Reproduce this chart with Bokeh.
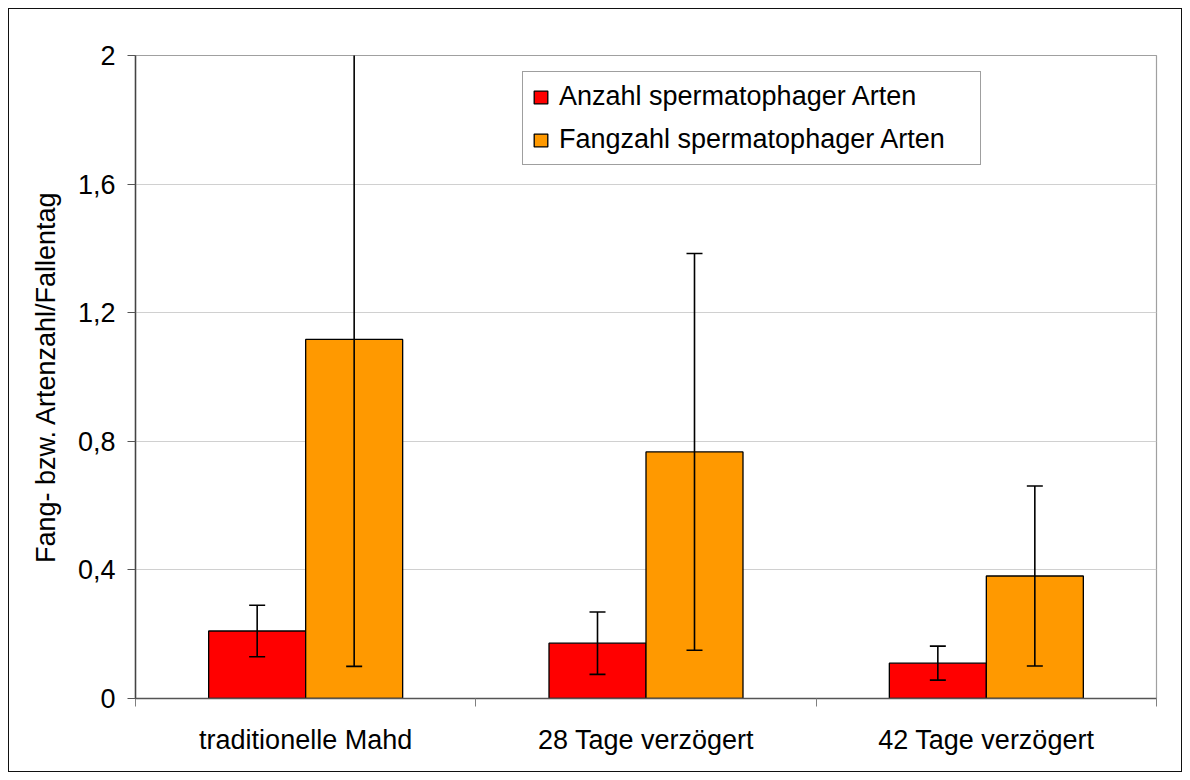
import numpy as np
from bokeh.plotting import figure
from bokeh.models import (ColumnDataSource, Range1d, FixedTicker, Whisker, TeeHead,
                          Legend, LegendItem)
from bokeh.embed import file_html
from bokeh.resources import INLINE

categories = ["traditionelle Mahd", "28 Tage verzögert", "42 Tage verzögert"]
series_names = ["Anzahl spermatophager Arten", "Fangzahl spermatophager Arten"]
anzahl = [0.21, 0.172, 0.110]
anzahl_err = [0.080, 0.097, 0.053]
fangzahl = [1.117, 0.767, 0.381]
fangzahl_err = [1.017, 0.617, 0.280]
y_ticks = [0, 0.4, 0.8, 1.2, 1.6, 2]
y_tick_labels = ["0", "0,4", "0,8", "1,2", "1,6", "2"]
y_title = "Fang- bzw. Artenzahl/Fallentag"

FONT = "Liberation Sans"
FS = "27px"
colors = ["#ff0000", "#ff9900"]

centers = np.arange(len(categories)) + 0.5
bar_w = 0.285
off = 0.1425

p = figure(width=1190, height=780, output_backend="svg", toolbar_location=None,
           x_range=Range1d(0, len(categories)), y_range=Range1d(0, 2),
           min_border_left=135, min_border_right=34, min_border_top=55, min_border_bottom=82)
p.border_fill_color = None
p.styles = {"outline": "1.5px solid #111111", "outline-offset": "-9.5px",
            "background-color": "white"}
p.outline_line_color = "#a0a0a0"
p.outline_line_width = 1.2

renderers = []
for vals, errs, dx, col in [(anzahl, anzahl_err, -off, colors[0]), (fangzahl, fangzahl_err, off, colors[1])]:
    x = centers + dx
    v = np.array(vals)
    e = np.array(errs)
    src = ColumnDataSource(dict(x=x, top=v, lower=v - e, upper=v + e))
    r = p.vbar(x="x", top="top", width=bar_w, bottom=0, source=src,
               fill_color=col, line_color="black", line_width=1.3)
    renderers.append(r)
    w = Whisker(base="x", lower="lower", upper="upper", source=src, dimension="height",
                line_color="black", line_width=1.6,
                upper_head=TeeHead(size=16, line_color="black", line_width=1.6),
                lower_head=TeeHead(size=16, line_color="black", line_width=1.6),
                level="annotation")
    p.add_layout(w)

# axes
xa = p.xaxis[0]
xa.ticker = FixedTicker(ticks=list(centers), minor_ticks=list(range(len(categories) + 1)))
xa.major_label_overrides = {float(c): lab for c, lab in zip(centers, categories)}
xa.major_tick_out = 0
xa.major_tick_in = 0
xa.minor_tick_out = 8
xa.minor_tick_in = 0
xa.minor_tick_line_color = "#808080"
xa.axis_line_color = "#555555"
xa.axis_line_width = 1.3
xa.major_label_text_font = FONT
xa.major_label_text_font_size = FS
xa.major_label_text_color = "black"
xa.major_label_standoff = 18

ya = p.yaxis[0]
ya.ticker = FixedTicker(ticks=y_ticks, minor_ticks=[])
ya.major_label_overrides = {float(t): lab for t, lab in zip(y_ticks, y_tick_labels)}
ya.major_tick_out = 8
ya.major_tick_in = 0
ya.major_tick_line_color = "#555555"
ya.axis_line_color = "#444444"
ya.axis_line_width = 1.5
ya.major_label_text_font = FONT
ya.major_label_text_font_size = FS
ya.major_label_text_color = "black"
ya.major_label_standoff = 12
ya.axis_label = y_title
ya.axis_label_text_font = FONT
ya.axis_label_text_font_size = FS
ya.axis_label_text_font_style = "normal"
ya.axis_label_text_color = "black"
ya.axis_label_standoff = 14

p.xgrid.visible = False
p.ygrid.ticker = FixedTicker(ticks=y_ticks)
p.ygrid.grid_line_color = "#d0d0d0"
p.ygrid.grid_line_width = 1.2

legend = Legend(items=[LegendItem(label=series_names[i], renderers=[renderers[i]]) for i in range(2)],
                location=(387, 533), orientation="vertical",
                label_text_font=FONT, label_text_font_size=FS, label_text_color="black",
                glyph_width=17, glyph_height=16, label_height=27, label_width=412,
                label_standoff=10, spacing=12, padding=9, margin=0,
                border_line_color="#404040", border_line_width=1.2,
                background_fill_color="white", background_fill_alpha=1)
p.add_layout(legend)

open("out.html", "w").write(file_html(p, INLINE))
